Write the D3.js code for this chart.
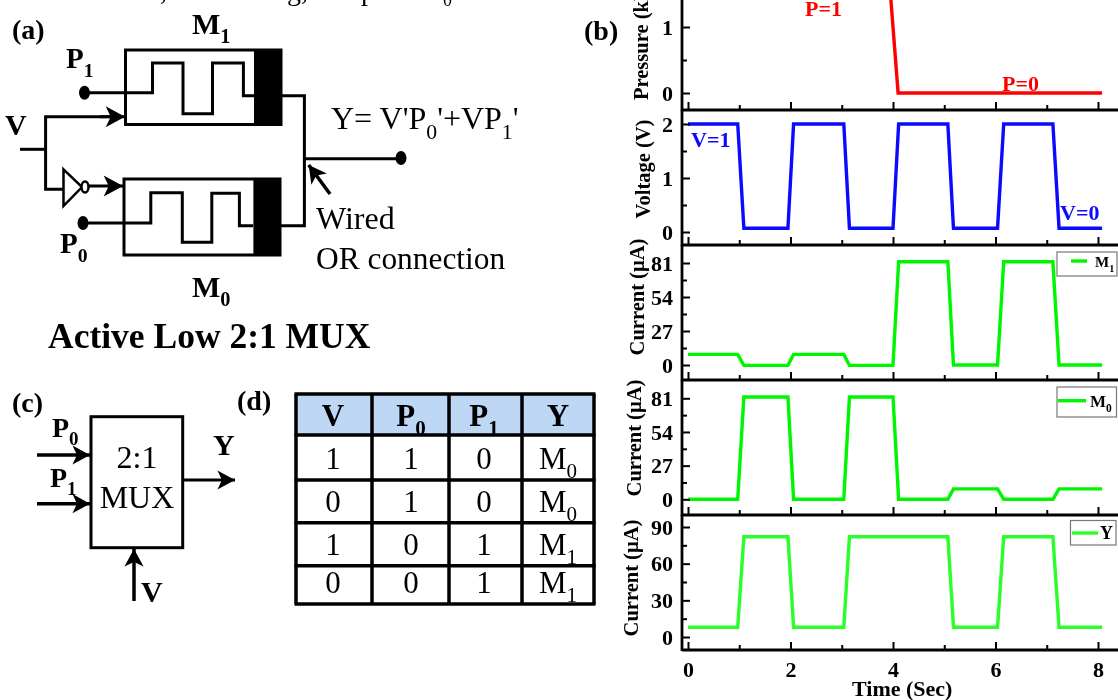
<!DOCTYPE html>
<html><head><meta charset="utf-8">
<script src="https://cdnjs.cloudflare.com/ajax/libs/d3/7.8.5/d3.min.js"></script>
<style>html,body{margin:0;padding:0;background:#fff;overflow:hidden}svg{display:block;filter:blur(0.45px)}text{font-family:"Liberation Serif",serif;fill:#000}</style>
</head><body><svg id="c" width="1118" height="700"></svg>
<script>
const timePoints=[0,0.97,1.09,1.95,2.06,3.04,3.15,4.0,4.11,5.07,5.18,6.04,6.16,7.12,7.24,8.08];
const pressureTime=[0,3.9,4.1,8.08];
const pressureValues=[2,2,0,0];
const voltageValues=[2,2,0.07,0.07,2,2,0.07,0.07,2,2,0.07,0.07,2,2,0.07,0.07];
const m1Values=[8.4,8.4,-0.3,-0.3,8.4,8.4,-0.3,-0.3,82,82,0,0,82,82,0,0];
const m0Values=[0,0,82,82,0,0,82,82,0,0,8.4,8.4,0,0,8.4,8.4];
const yValues=[8,8,82,82,8,8,82,82,82,82,8,8,82,82,8,8];
const xTicks=[0,2,4,6,8];
const xMinorTicks=[1,3,5,7];
const tableHeader=["V","P0","P1","Y"];
const tableRows=[["1","1","0","M0"],["0","1","0","M0"],["1","0","1","M1"],["0","0","1","M1"]];

const svg=d3.select("#c");
const gA=svg.append("g");
const gB=svg.append("g");

function txt(g,x,y,s,size,bold,opt={}){
  const t=g.append("text").attr("x",x).attr("y",y).attr("font-size",size)
    .attr("font-weight",bold?"bold":"normal").attr("text-anchor",opt.anchor||"start");
  if(opt.fill)t.style("fill",opt.fill);
  const parts=s.split("_");
  t.append("tspan").text(parts[0]);
  for(let i=1;i<parts.length;i++){
    const m=parts[i];
    t.append("tspan").attr("dy",size*0.3).attr("font-size",size*0.68).text(m[0]);
    if(m.length>1)t.append("tspan").attr("dy",-size*0.3).text(m.slice(1));
  }
  return t;
}
function line(g,pts,w=3,closed=false){
  return g.append("path").attr("d",d3.line()(pts)+(closed?"Z":"")).attr("fill","none").attr("stroke","#000").attr("stroke-width",w);
}
function arrow(g,x1,y1,x2,y2,w=3,s=15){
  line(g,[[x1,y1],[x2,y2]],w);
  const a=Math.atan2(y2-y1,x2-x1);
  const p=(r,b)=>[x2+r*Math.cos(a+b),y2+r*Math.sin(a+b)];
  g.append("path").attr("d",d3.line()([[x2,y2],p(s,Math.PI-0.5),p(s*0.65,Math.PI),p(s,Math.PI+0.5)])+"Z").attr("fill","#000");
}
function dot(g,x,y){g.append("ellipse").attr("cx",x).attr("cy",y).attr("rx",5.5).attr("ry",7).attr("fill","#000");}

/* cropped caption remnants along the top edge */
txt(gA,160,0,",",28,false);
txt(gA,287,0,"g,",28,false);
txt(gA,361,0,"p",28,false);
txt(gA,443,6,"0",18,false);

/* panel (a) */
txt(gA,12,39,"(a)",28,true);
txt(gA,192,34,"M_1",30,true);
txt(gA,66,68,"P_1",29,true);
txt(gA,60,253,"P_0",29,true);
txt(gA,192,297,"M_0",30,true);
txt(gA,5,135,"V",30,true);
txt(gA,331,129,"Y= V'P_0'+VP_1'",32,false);
txt(gA,316,229,"Wired",32,false);
txt(gA,316,269,"OR connection",31.4,false);
txt(gA,48,348,"Active Low 2:1 MUX",35.5,true);

line(gA,[[125.5,50],[281,50],[281,124.5],[125.5,124.5]],3,true);
gA.append("rect").attr("x",254).attr("y",49).attr("width",27).attr("height",77).attr("fill","#000");
line(gA,[[84.5,92.7],[152.5,92.7],[152.5,63],[183,63],[183,113.7],[212.5,113.7],[212.5,63],[243.4,63],[243.4,95.7],[254,95.7]]);
dot(gA,84.5,92.7);
line(gA,[[124,179],[280,179],[280,255],[124,255]],3,true);
gA.append("rect").attr("x",253.4).attr("y",178).attr("width",27).attr("height",78).attr("fill","#000");
line(gA,[[83,223],[150.8,223],[150.8,192.7],[182.3,192.7],[182.3,242.3],[211.8,242.3],[211.8,193.3],[239.4,193.3],[239.4,225.7],[253,225.7]]);
dot(gA,83,223);
line(gA,[[281,95.7],[304.4,95.7],[304.4,225.7],[280,225.7]]);
line(gA,[[304.4,158.7],[402,158.7]]);
dot(gA,401,158);
arrow(gA,330,194,308.7,165,3.5,20);
line(gA,[[20,149.3],[45.6,149.3]]);
line(gA,[[110,116.7],[45.6,116.7],[45.6,189.3],[63.5,189.3]]);
arrow(gA,100,116.7,125,116.7,3,22);
line(gA,[[63.5,169.3],[82,187],[63.5,206]],2.5,true);
gA.append("ellipse").attr("cx",85).attr("cy",187).attr("rx",3.5).attr("ry",5.5).attr("fill","#fff").attr("stroke","#000").attr("stroke-width",2.5);
arrow(gA,89,186,123,186,3,22);

/* panel (c) */
txt(gA,12,412,"(c)",28,true);
txt(gA,52,437,"P_0",28,true);
txt(gA,50,487,"P_1",28,true);
arrow(gA,37,455,90,455,3.5,20);
arrow(gA,37,503.7,90,503.7,3.5,20);
gA.append("rect").attr("x",91).attr("y",416.7).attr("width",91.7).attr("height",131).attr("fill","none").attr("stroke","#000").attr("stroke-width",3);
txt(gA,137,468,"2:1",32,false,{anchor:"middle"});
txt(gA,137,508,"MUX",32,false,{anchor:"middle"});
txt(gA,213,455,"Y",30,true);
arrow(gA,183,480,235,480,3,20);
arrow(gA,134,601,134,549,3.5,20);
txt(gA,141,602,"V",30,true);

/* table (d) */
txt(gA,237,410,"(d)",28,true);
const colEdges=[296,372,449,522,594];
const rowEdges=[394,435,480,522.7,565.7,604];
const colCenters=[333,411,484,558];
const rowBase=[469,512,555,593];
gA.append("rect").attr("x",296).attr("y",394).attr("width",298).attr("height",41).attr("fill","#bdd7f5");
colEdges.forEach(x=>line(gA,[[x,394],[x,604]],3.5));
rowEdges.forEach(y=>line(gA,[[294.5,y],[595.5,y]],3.5));
tableHeader.forEach((h,i)=>txt(gA,colCenters[i],426,h.replace(/^P/,"P_"),31,true,{anchor:"middle"}));
tableRows.forEach((r,j)=>r.forEach((c,i)=>txt(gA,colCenters[i],rowBase[j],c.replace(/^M/,"M_"),31,false,{anchor:"middle"})));

/* panel (b) */
txt(gB,584,40,"(b)",28,true);
const x=d3.scaleLinear().domain([0,8]).range([688,1098]);
function panel(o){
  const y=d3.scaleLinear().domain(o.dom).range(o.rng);
  const g=gB.append("g");
  g.append("path").attr("d",d3.line().x((d,i)=>x(o.t[i])).y(d=>y(d))(o.v)).attr("fill","none").attr("stroke",o.color).attr("stroke-width",3.4).attr("stroke-linejoin","miter");
  const ax=g.append("g").attr("transform",`translate(0,${o.bottom})`).call(d3.axisBottom(x).tickValues(xTicks).tickSize(-8).tickFormat(o.last?d3.format("d"):""));
  ax.select(".domain").remove();
  ax.selectAll("line").attr("stroke","#000").attr("stroke-width",2);
  ax.selectAll("text").attr("font-size",22).attr("font-weight","bold").attr("dy",0).attr("y",27).style("font-family",'"Liberation Serif",serif');
  const am=g.append("g").attr("transform",`translate(0,${o.bottom})`).call(d3.axisBottom(x).tickValues(xMinorTicks).tickSize(-5).tickFormat(""));
  am.select(".domain").remove();
  am.selectAll("line").attr("stroke","#000").attr("stroke-width",2);
  line(g,[[682,o.bottom],[1118,o.bottom]],2.8);
  const ay=g.append("g").attr("transform","translate(682,0)").call(d3.axisLeft(y).tickValues(o.ticks).tickSize(-8).tickFormat(d3.format("d")));
  ay.select(".domain").remove();
  ay.selectAll("line").attr("stroke","#000").attr("stroke-width",2);
  ay.selectAll("text").attr("font-size",22).attr("font-weight","bold").attr("x",-9).style("font-family",'"Liberation Serif",serif');
  const am2=g.append("g").attr("transform","translate(682,0)").call(d3.axisLeft(y).tickValues(o.minor).tickSize(-5).tickFormat(""));
  am2.select(".domain").remove();
  am2.selectAll("line").attr("stroke","#000").attr("stroke-width",2);
  line(g,[[682,o.top],[682,o.bottom+1]],2.8);
  g.append("text").attr("transform",`translate(${o.lx},${o.ly}) rotate(-90)`).attr("text-anchor",o.anchor||"middle").attr("font-size",20.5).attr("font-weight","bold").text(o.label);
}
panel({t:pressureTime,v:pressureValues,dom:[0,1],rng:[93,27],ticks:[0,1],minor:[0.5],color:"#ff0000",top:0,bottom:110,label:"Pressure (kPa)",lx:648,ly:100,anchor:"start"});
panel({t:timePoints,v:voltageValues,dom:[0,2],rng:[232,124],ticks:[0,1,2],minor:[0.5,1.5],color:"#0a0aff",top:110,bottom:245,label:"Voltage (V)",lx:650,ly:169});
panel({t:timePoints,v:m1Values,dom:[0,81],rng:[365,263],ticks:[0,27,54,81],minor:[13.5,40.5,67.5],color:"#00f500",top:245,bottom:380,label:"Current (µA)",lx:644,ly:297});
panel({t:timePoints,v:m0Values,dom:[0,81],rng:[499.3,398.3],ticks:[0,27,54,81],minor:[13.5,40.5,67.5],color:"#00f500",top:380,bottom:515,label:"Current (µA)",lx:641,ly:438});
panel({t:timePoints,v:yValues,dom:[0,90],rng:[637,527],ticks:[0,30,60,90],minor:[15,45,75],color:"#2bff2b",top:515,bottom:650,last:true,label:"Current (µA)",lx:638,ly:578});

txt(gB,805,16,"P=1",22,true,{fill:"#ff0000"});
txt(gB,1002,91,"P=0",22,true,{fill:"#ff0000"});
txt(gB,691,147,"V=1",22,true,{fill:"#0a0aff"});
txt(gB,1060,220,"V=0",22,true,{fill:"#0a0aff"});
txt(gB,852,696,"Time (Sec)",22,true);

function legend(x0,y0,w,h,lx0,lx1,ly,label,tx,ty,size,color){
  gB.append("rect").attr("x",x0).attr("y",y0).attr("width",w).attr("height",h).attr("fill","#fff").attr("stroke","#777").attr("stroke-width",1.2);
  gB.append("line").attr("x1",lx0).attr("x2",lx1).attr("y1",ly).attr("y2",ly).attr("stroke",color).attr("stroke-width",3.4);
  txt(gB,tx,ty,label,size,true);
}
legend(1057,252,60,24,1071,1087,261,"M_1",1095,267,15,"#00f500");
legend(1057,387,59.5,30,1058,1086,400.7,"M_0",1090,406.7,17,"#00f500");
legend(1070.5,520.5,45.5,24.5,1072,1098,533,"Y",1100,539,18,"#2bff2b");
</script></body></html>
